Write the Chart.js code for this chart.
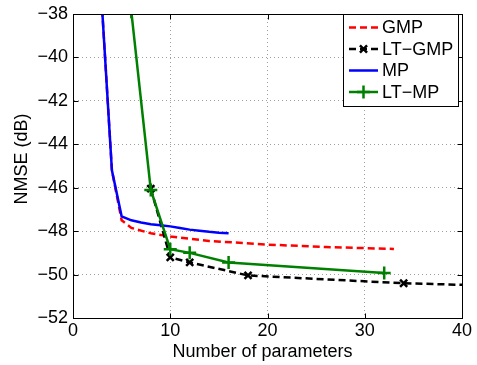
<!DOCTYPE html>
<html><head><meta charset="utf-8">
<script src="https://cdn.jsdelivr.net/npm/chart.js@4.4.1/dist/chart.umd.min.js"></script>
<style>html,body{margin:0;padding:0;background:#fff;} #wrap{width:477px;height:365px;position:relative;}</style>
</head><body><div id="wrap"><canvas id="c" width="477" height="365"></canvas></div>
<script>
// ---- data ----
const gmpX = [3, 4, 5, 6, 8, 10, 14, 20, 26, 33];
const gmpY = [-37.8, -45.2, -47.5, -47.85, -48.1, -48.25, -48.45, -48.62, -48.73, -48.82];
const ltGmpX = [8, 10, 12, 18, 34, 50];
const ltGmpY = [-46.04, -49.21, -49.44, -50.04, -50.40, -50.59];
const mpX = [3, 4, 5, 6, 7, 8, 9, 10, 11, 12, 13, 14, 15, 16];
const mpY = [-37.8, -45.2, -47.32, -47.5, -47.6, -47.68, -47.73, -47.78, -47.86, -47.93, -47.98, -48.03, -48.07, -48.1];
const ltMpX = [6, 8, 10, 12, 16, 32];
const ltMpY = [-37.9, -46.1, -48.83, -49.0, -49.44, -49.93];
const xTicks = [0, 10, 20, 30, 40];
const yTicks = [-52, -50, -48, -46, -44, -42, -40, -38];
const seriesNames = ['GMP', 'LT\u2212GMP', 'MP', 'LT\u2212MP'];
const xTitle = 'Number of parameters';
const yTitle = 'NMSE (dB)';

const FONT = '"Liberation Sans", Arial, Helvetica, sans-serif';
const pts = (xs, ys) => xs.map((x, i) => ({x: x, y: ys[i]}));
const minus = v => String(v).replace('-', '\u2212');

const styles = [
  {color: '#ff0000', dash: [7, 4], marker: null},
  {color: '#000000', dash: [7, 4], marker: 'crossRot'},
  {color: '#0000ff', dash: [], marker: null},
  {color: '#008000', dash: [], marker: 'cross'}
];
const seriesData = [pts(gmpX, gmpY), pts(ltGmpX, ltGmpY), pts(mpX, mpY), pts(ltMpX, ltMpY)];

const datasets = seriesData.map((d, i) => ({
  label: seriesNames[i],
  data: d,
  borderColor: styles[i].color,
  backgroundColor: styles[i].color,
  borderWidth: 2.5,
  borderDash: styles[i].dash,
  pointStyle: styles[i].marker || 'circle',
  pointRadius: styles[i].marker ? (styles[i].marker === 'cross' ? 6.5 : 5) : 0,
  pointBorderWidth: 2.5,
  pointBorderColor: styles[i].color,
  pointHoverRadius: 0,
  tension: 0,
  fill: false,
  order: 4 - i
}));

function drawMarker(ctx, type, x, y, r) {
  ctx.beginPath();
  if (type === 'cross') {
    ctx.moveTo(x - r, y); ctx.lineTo(x + r, y);
    ctx.moveTo(x, y - r); ctx.lineTo(x, y + r);
  } else {
    const d = r * Math.SQRT1_2;
    ctx.moveTo(x - d, y - d); ctx.lineTo(x + d, y + d);
    ctx.moveTo(x - d, y + d); ctx.lineTo(x + d, y - d);
  }
  ctx.stroke();
}

const framePlugin = {
  id: 'frame',
  afterDraw(chart) {
    const {ctx, chartArea: a, scales} = chart;
    ctx.save();
    ctx.strokeStyle = '#000';
    ctx.lineWidth = 1;
    ctx.setLineDash([]);
    const L = Math.round(a.left) + 0.5, R = Math.round(a.right) + 0.5;
    const T = Math.round(a.top) + 0.5, B = Math.round(a.bottom) + 0.5;
    ctx.strokeRect(L, T, R - L, B - T);
    ctx.beginPath();
    const tl = 5;
    xTicks.forEach(v => {
      const px = Math.round(scales.x.getPixelForValue(v)) + 0.5;
      ctx.moveTo(px, B); ctx.lineTo(px, B - tl);
      ctx.moveTo(px, T); ctx.lineTo(px, T + tl);
    });
    yTicks.forEach(v => {
      const py = Math.round(scales.y.getPixelForValue(v)) + 0.5;
      ctx.moveTo(L, py); ctx.lineTo(L + tl, py);
      ctx.moveTo(R, py); ctx.lineTo(R - tl, py);
    });
    ctx.stroke();

    // axis titles
    ctx.fillStyle = '#000';
    ctx.font = '18px ' + FONT;
    ctx.textAlign = 'center';
    ctx.textBaseline = 'alphabetic';
    ctx.fillText(xTitle, (a.left + a.right) / 2 - 5, 356.5);
    ctx.save();
    ctx.translate(27, (a.top + a.bottom) / 2 - 7);
    ctx.rotate(-Math.PI / 2);
    ctx.fillText(yTitle, 0, 0);
    ctx.restore();

    // legend
    const bx = 343.5, by = 14.5, bw = 115, bh = 92;
    ctx.fillStyle = '#fff';
    ctx.fillRect(bx, by, bw, bh);
    ctx.strokeRect(bx, by, bw, bh);
    const rows = [27.5, 49, 70.5, 92];
    ctx.font = '18px ' + FONT;
    ctx.textBaseline = 'middle';
    ctx.textAlign = 'left';
    seriesNames.forEach((name, i) => {
      const s = styles[i];
      const y = rows[i];
      ctx.strokeStyle = s.color;
      ctx.lineWidth = 2.5;
      ctx.setLineDash(s.dash);
      ctx.beginPath();
      ctx.moveTo(349, y); ctx.lineTo(378, y);
      ctx.stroke();
      ctx.setLineDash([]);
      if (s.marker) drawMarker(ctx, s.marker, 363.5, y, s.marker === 'cross' ? 6.5 : 5);
      ctx.fillStyle = '#000';
      ctx.fillText(name, 382, y + 1);
    });
    ctx.restore();
  }
};

new Chart(document.getElementById('c'), {
  type: 'line',
  data: {datasets: datasets},
  options: {
    responsive: false,
    animation: false,
    devicePixelRatio: 1,
    layout: {padding: {top: 9, right: 15, left: 0, bottom: 0}},
    plugins: {legend: {display: false}, tooltip: {enabled: false}},
    scales: {
      x: {
        type: 'linear', min: 0, max: 40,
        afterBuildTicks: s => { s.ticks = xTicks.map(v => ({value: v})); },
        afterFit: s => { s.height = 47; },
        ticks: {color: '#000', padding: 4, maxRotation: 0, font: {family: FONT, size: 18, lineHeight: 1}, callback: v => minus(v)},
        grid: {color: '#a0a0a0', lineWidth: 1, drawTicks: false},
        border: {display: true, color: '#000', width: 1, dash: [1, 3]},
        title: {display: false, text: xTitle}
      },
      y: {
        type: 'linear', min: -52, max: -38,
        afterBuildTicks: s => { s.ticks = yTicks.map(v => ({value: v})); },
        afterFit: s => { s.width = 73; },
        ticks: {color: '#000', padding: 5, font: {family: FONT, size: 18, lineHeight: 1}, callback: v => minus(v)},
        grid: {color: '#a0a0a0', lineWidth: 1, drawTicks: false},
        border: {display: true, color: '#000', width: 1, dash: [1, 3]},
        title: {display: false, text: yTitle}
      }
    }
  },
  plugins: [framePlugin]
});
</script>
</body></html>
